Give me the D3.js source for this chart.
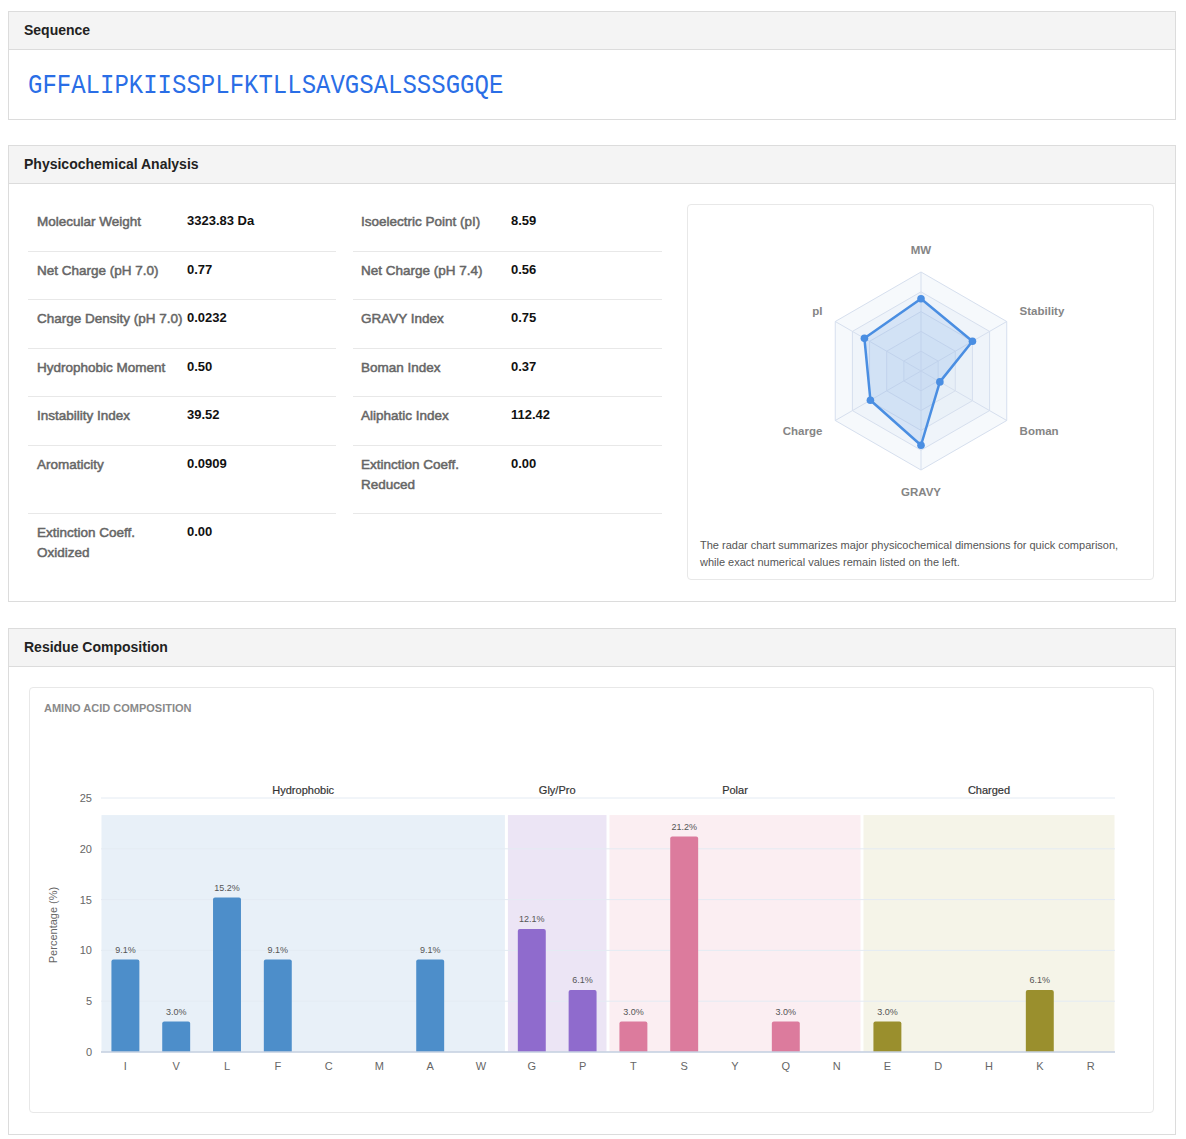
<!DOCTYPE html>
<html>
<head>
<meta charset="utf-8">
<script src="https://cdn.jsdelivr.net/npm/d3@7"></script>
<style>
  body { margin: 0; background: #fff; font-family: "Liberation Sans", Arial, sans-serif; }
  .panel { position: absolute; left: 8px; width: 1166px; border: 1px solid #dcdcdc; background: #fff; }
  .panel-head { height: 37px; line-height: 37px; background: #f4f4f4; border-bottom: 1px solid #dcdcdc;
                padding-left: 15px; font-size: 14px; font-weight: bold; color: #222; }
  .seq { position: absolute; left: 19px; top: 59px; font-family: "Liberation Mono", "Courier New", monospace;
         font-size: 24px; color: #2a6ee6; transform: scaleY(1.12); transform-origin: 0 0; }
  .props { position: absolute; left: 19px; top: 57px; width: 634px; }
  .prow { display: flex; }
  .pcell { width: 308px; padding: 9px 0 18.5px 0; display: flex; font-size: 13.5px; line-height: 20px; }
  .pcell.line { border-bottom: 1px solid #e8e8e8; }
  .pcell.right { margin-left: 17px; width: 309px; }
  .plab { width: 159px; padding-left: 9px; padding-right: 4px; box-sizing: border-box; color: #666;
          -webkit-text-stroke: 0.5px #666; }
  .pcell.right .plab { width: 158px; padding-left: 8px; }
  .pval { font-weight: bold; color: #111; margin-top: -1px; font-size: 13px; }
  .card { position: absolute; border: 1px solid #e8e8e8; border-radius: 4px; background: #fff; }
</style>
</head>
<body>
<div class="panel" style="top:11px;height:107px;">
  <div class="panel-head">Sequence</div>
  <div class="seq" id="seq"></div>
</div>
<div class="panel" style="top:145px;height:455px;">
  <div class="panel-head">Physicochemical Analysis</div>
  <div class="props" id="props"></div>
  <div class="card" id="radarCard" style="left:678px;top:58px;width:465px;height:374px;"></div>
</div>
<div class="panel" style="top:628px;height:505px;">
  <div class="panel-head">Residue Composition</div>
  <div class="card" id="compCard" style="left:20px;top:58px;width:1123px;height:424px;"></div>
</div>

<script>
var sequence = "GFFALIPKIISSPLFKTLLSAVGSALSSSGGQE";

// property table (left / right columns)
var leftLabels = ["Molecular Weight", "Net Charge (pH 7.0)", "Charge Density (pH 7.0)", "Hydrophobic Moment",
                  "Instability Index", "Aromaticity", "Extinction Coeff. Oxidized"];
var leftValues = ["3323.83 Da", "0.77", "0.0232", "0.50", "39.52", "0.0909", "0.00"];
var rightLabels = ["Isoelectric Point (pI)", "Net Charge (pH 7.4)", "GRAVY Index", "Boman Index",
                   "Aliphatic Index", "Extinction Coeff. Reduced"];
var rightValues = ["8.59", "0.56", "0.75", "0.37", "112.42", "0.00"];

// radar
var radarAxes = ["MW", "Stability", "Boman", "GRAVY", "Charge", "pI"];
var radarValues = [0.73, 0.60, 0.22, 0.75, 0.59, 0.66];
var radarLevels = [0.2, 0.4, 0.6, 0.8, 1.0];

// residue composition
var residues = ["I", "V", "L", "F", "C", "M", "A", "W", "G", "P", "T", "S", "Y", "Q", "N", "E", "D", "H", "K", "R"];
var percents = [9.1, 3.0, 15.2, 9.1, 0, 0, 9.1, 0, 12.1, 6.1, 3.0, 21.2, 0, 3.0, 0, 3.0, 0, 0, 6.1, 0];
var groupNames = ["Hydrophobic", "Gly/Pro", "Polar", "Charged"];
var groupMembers = [["I", "V", "L", "F", "C", "M", "A", "W"], ["G", "P"], ["T", "S", "Y", "Q", "N"], ["E", "D", "H", "K", "R"]];
var groupBars = ["#4d8eca", "#8f6bcd", "#dc7b9d", "#9a8f2d"];
var groupBg = ["#e8f0f8", "#ece5f5", "#fbeef2", "#f5f4e8"];
var yTicks = [0, 5, 10, 15, 20, 25];

d3.select("#seq").text(sequence);

// ---- table
var rows = d3.range(leftLabels.length).map(function(i) {
  return { l: leftLabels[i], lv: leftValues[i], r: rightLabels[i], rv: rightValues[i], last: i == leftLabels.length - 1 };
});
var prow = d3.select("#props").selectAll(".prow").data(rows).enter()
  .append("div").attr("class", "prow");
prow.each(function(d) {
  var row = d3.select(this);
  var c1 = row.append("div").attr("class", "pcell" + (d.last ? "" : " line"));
  c1.append("div").attr("class", "plab").text(d.l);
  c1.append("div").attr("class", "pval").text(d.lv);
  if (d.r) {
    var c2 = row.append("div").attr("class", "pcell right line");
    c2.append("div").attr("class", "plab").text(d.r);
    c2.append("div").attr("class", "pval").text(d.rv);
  }
});

// ---- radar
var rsvg = d3.select("#radarCard").append("svg").attr("width", 465).attr("height", 374);
var cx = 233, cy = 166, R = 99;
var angle = d3.scaleLinear().domain([0, radarAxes.length]).range([0, 2 * Math.PI]);
var rScale = d3.scaleLinear().domain([0, 1]).range([0, R]);
function pt(i, v) {
  var a = angle(i);
  return [cx + Math.sin(a) * rScale(v), cy - Math.cos(a) * rScale(v)];
}
var rg = rsvg.append("g");
radarLevels.slice().reverse().forEach(function(lv) {
  rg.append("polygon")
    .attr("points", radarAxes.map(function(a, i) { return pt(i, lv).join(","); }).join(" "))
    .attr("fill", "#dfe8f6").attr("fill-opacity", 0.28)
    .attr("stroke", "#d6dfee").attr("stroke-width", 1);
});
radarAxes.forEach(function(a, i) {
  var p = pt(i, 1);
  rg.append("line").attr("x1", cx).attr("y1", cy).attr("x2", p[0]).attr("y2", p[1])
    .attr("stroke", "#d6dfee").attr("stroke-width", 1);
});
rg.append("polygon")
  .attr("points", radarValues.map(function(v, i) { return pt(i, v).join(","); }).join(" "))
  .attr("fill", "#4a8ee2").attr("fill-opacity", 0.15)
  .attr("stroke", "#4a8ee2").attr("stroke-width", 2.5).attr("stroke-linejoin", "round");
rg.selectAll("circle.rp").data(radarValues).enter().append("circle")
  .attr("cx", function(v, i) { return pt(i, v)[0]; })
  .attr("cy", function(v, i) { return pt(i, v)[1]; })
  .attr("r", 3.8).attr("fill", "#4a8ee2");
rg.selectAll("text.rl").data(radarAxes).enter().append("text")
  .attr("x", function(a, i) { var p = pt(i, 1.22); var s = Math.sin(angle(i)); return p[0] + (s > 0.1 ? -6 : s < -0.1 ? 6 : 0); })
  .attr("y", function(a, i) { return pt(i, 1.22)[1] + 4; })
  .attr("text-anchor", function(a, i) { var s = Math.sin(angle(i)); return s > 0.1 ? "start" : s < -0.1 ? "end" : "middle"; })
  .attr("font-size", 11.5).attr("font-weight", "bold").attr("fill", "#858585")
  .text(function(a) { return a; });
var note = rsvg.append("text").attr("font-size", 11).attr("fill", "#555");
note.append("tspan").attr("x", 12).attr("y", 344).text("The radar chart summarizes major physicochemical dimensions for quick comparison,");
note.append("tspan").attr("x", 12).attr("y", 361).text("while exact numerical values remain listed on the left.");

// ---- composition bar chart
var W = 1123, H = 424;
var margin = { top: 110, right: 37, bottom: 60, left: 70 };
var width = W - margin.left - margin.right;
var height = H - margin.top - margin.bottom;
var csvg = d3.select("#compCard").append("svg").attr("width", W).attr("height", H);
csvg.append("text").attr("x", 14).attr("y", 24).attr("font-size", 11).attr("font-weight", "bold")
  .attr("fill", "#8a8a8a").text("AMINO ACID COMPOSITION");
var g = csvg.append("g").attr("transform", "translate(" + margin.left + "," + margin.top + ")");

var x = d3.scaleBand().domain(residues).range([0, width]).paddingInner(0.45).paddingOuter(0.225);
var step = x.step();
var y = d3.scaleLinear().domain([0, 25]).range([height, 0]);

function groupIndex(r) {
  for (var k = 0; k < groupMembers.length; k++) if (groupMembers[k].indexOf(r) >= 0) return k;
  return 0;
}
var maxPct = d3.max(percents);

// group backgrounds
var groups = groupNames.map(function(n, k) {
  var m = groupMembers[k];
  var x0 = x(m[0]) - x.paddingOuter() * step;
  var x1 = x(m[m.length - 1]) + x.bandwidth() + x.paddingOuter() * step;
  return { name: n, x0: x0, x1: x1, k: k };
});
g.selectAll("rect.bg").data(groups).enter().append("rect")
  .attr("x", function(d) { return d.x0 + 1.5; })
  .attr("width", function(d) { return d.x1 - d.x0 - 3; })
  .attr("y", y(maxPct * 1.1))
  .attr("height", height - y(maxPct * 1.1))
  .attr("fill", function(d) { return groupBg[d.k]; });

// grid
g.selectAll("line.grid").data(yTicks).enter().append("line")
  .attr("x1", 1).attr("x2", width - 1)
  .attr("y1", function(d) { return y(d); }).attr("y2", function(d) { return y(d); })
  .attr("stroke", "#e4ebf3").attr("stroke-width", 1);

// group labels
g.selectAll("text.grp").data(groups).enter().append("text")
  .attr("x", function(d) { return (d.x0 + d.x1) / 2; })
  .attr("y", -4).attr("text-anchor", "middle")
  .attr("font-size", 11).attr("fill", "#333").attr("stroke", "#333").attr("stroke-width", 0.2)
  .text(function(d) { return d.name; });

// bars
var data = residues.map(function(r, i) { return { r: r, v: percents[i], k: groupIndex(r) }; });
g.selectAll("path.bar").data(data.filter(function(d) { return d.v > 0; })).enter().append("path")
  .attr("d", function(d) {
    var bx = x(d.r), bw = x.bandwidth(), by = y(d.v), rr = 2;
    return "M" + bx + "," + height + "V" + (by + rr) + "Q" + bx + "," + by + " " + (bx + rr) + "," + by +
      "H" + (bx + bw - rr) + "Q" + (bx + bw) + "," + by + " " + (bx + bw) + "," + (by + rr) + "V" + height + "Z";
  })
  .attr("fill", function(d) { return groupBars[d.k]; });

g.selectAll("text.val").data(data.filter(function(d) { return d.v > 0; })).enter().append("text")
  .attr("x", function(d) { return x(d.r) + x.bandwidth() / 2; })
  .attr("y", function(d) { return y(d.v) - 7; })
  .attr("text-anchor", "middle").attr("font-size", 9).attr("fill", "#555")
  .text(function(d) { return d.v.toFixed(1) + "%"; });

// baseline
g.append("line").attr("x1", 1).attr("x2", width - 1).attr("y1", height).attr("y2", height)
  .attr("stroke", "#c6d0e0").attr("stroke-width", 1.5);

// axes
var xAxis = g.append("g").attr("transform", "translate(0," + height + ")")
  .call(d3.axisBottom(x).tickSize(0).tickPadding(10));
xAxis.select(".domain").remove();
xAxis.selectAll("text").attr("font-size", 11).attr("fill", "#666").attr("font-family", "Liberation Sans, Arial, sans-serif");

var yAxis = g.append("g").call(d3.axisLeft(y).tickValues(yTicks).tickSize(0).tickPadding(8));
yAxis.select(".domain").remove();
yAxis.selectAll("text").attr("font-size", 11).attr("fill", "#666").attr("font-family", "Liberation Sans, Arial, sans-serif");

g.append("text").attr("transform", "translate(-43," + (height / 2) + ") rotate(-90)")
  .attr("text-anchor", "middle").attr("font-size", 11).attr("fill", "#666")
  .text("Percentage (%)");
</script>
</body>
</html>
